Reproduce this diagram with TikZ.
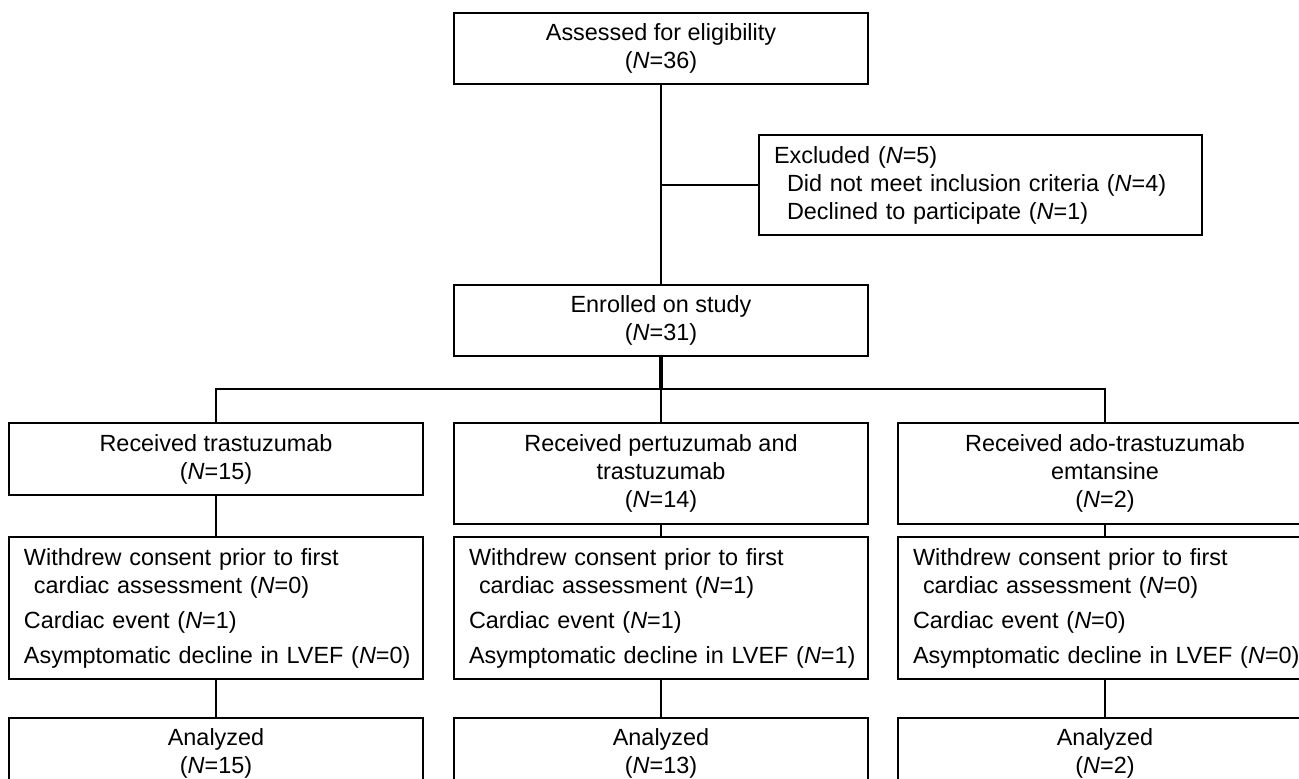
\documentclass[tikz,border=0pt]{standalone}
\usepackage{fontspec}
\setmainfont{Liberation Sans}
\usetikzlibrary{positioning}

\begin{document}
\begin{tikzpicture}[font=\fontsize{11.7}{14}\selectfont]
    \tikzstyle{box} = [rectangle, draw=black, line width=1pt, minimum width=207pt, minimum height=35.5pt,
      align=center, inner sep=0pt]
    \tikzstyle{listbox} = [box, text width=192pt, align=left, inner xsep=7.5pt]
    \tikzstyle{link} = [line width=1pt]

    \useasboundingbox (0,0) rectangle (649.5pt,-389.5pt);

    \node (assess)   [box] at (330.5pt,-24.25pt) {Assessed for eligibility\\(\textit{N}=36)};
    \node (excluded) [listbox, text width=206.5pt, minimum height=50pt, below right=24.5pt and 48.5pt of assess.south]
      {Excluded (\textit{N}=5)\\\hspace*{6.5pt}Did not meet inclusion criteria (\textit{N}=4)\\\hspace*{6.5pt}Declined to participate (\textit{N}=1)};
    \node (enrolled) [box, below=99.5pt of assess] {Enrolled on study\\(\textit{N}=31)};

    \node (recv2) [box, minimum height=50.5pt, below=32.5pt of enrolled] {Received pertuzumab and\\trastuzumab\\(\textit{N}=14)};
    \node (recv1) [box, minimum height=36pt, below left=0pt and 14.5pt of recv2.north west] {Received trastuzumab\\(\textit{N}=15)};
    \node (recv3) [box, minimum height=50.5pt, below right=0pt and 14pt of recv2.north east] {Received ado-trastuzumab\\emtansine\\(\textit{N}=2)};

    \node (withdr2) [listbox, minimum height=71pt, below=5.5pt of recv2]
      {\mbox{Withdrew consent prior to first}\\\hspace*{5pt}cardiac assessment (\textit{N}=1)\\[3.5pt]Cardiac event (\textit{N}=1)\\[3.5pt]\mbox{Asymptomatic decline in LVEF (\textit{N}=1)}};
    \node (withdr1) [listbox, minimum height=71pt, left=14.5pt of withdr2]
      {\mbox{Withdrew consent prior to first}\\\hspace*{5pt}cardiac assessment (\textit{N}=0)\\[3.5pt]Cardiac event (\textit{N}=1)\\[3.5pt]\mbox{Asymptomatic decline in LVEF (\textit{N}=0)}};
    \node (withdr3) [listbox, minimum height=71pt, right=14pt of withdr2]
      {\mbox{Withdrew consent prior to first}\\\hspace*{5pt}cardiac assessment (\textit{N}=0)\\[3.5pt]Cardiac event (\textit{N}=0)\\[3.5pt]\mbox{Asymptomatic decline in LVEF (\textit{N}=0)}};

    \node (anal2) [box, below=18.5pt of withdr2] {Analyzed\\(\textit{N}=13)};
    \node (anal1) [box, left=14.5pt of anal2] {Analyzed\\(\textit{N}=15)};
    \node (anal3) [box, right=14pt of anal2] {Analyzed\\(\textit{N}=2)};

    \draw [link] (assess) -- (enrolled);
    \draw [link] (assess.south |- excluded.west) -- (excluded.west);
    \draw [link, line width=1.6pt] (enrolled.south) -- ++(0,-16pt) coordinate (split);
    \draw [link] (recv1.north) |- (split) -| (recv3.north);
    \draw [link] (split) -- (recv2);
    \foreach \i in {1,2,3} {
      \draw [link] (recv\i) -- (withdr\i);
      \draw [link] (withdr\i) -- (anal\i);
    }
\end{tikzpicture}
\end{document}
